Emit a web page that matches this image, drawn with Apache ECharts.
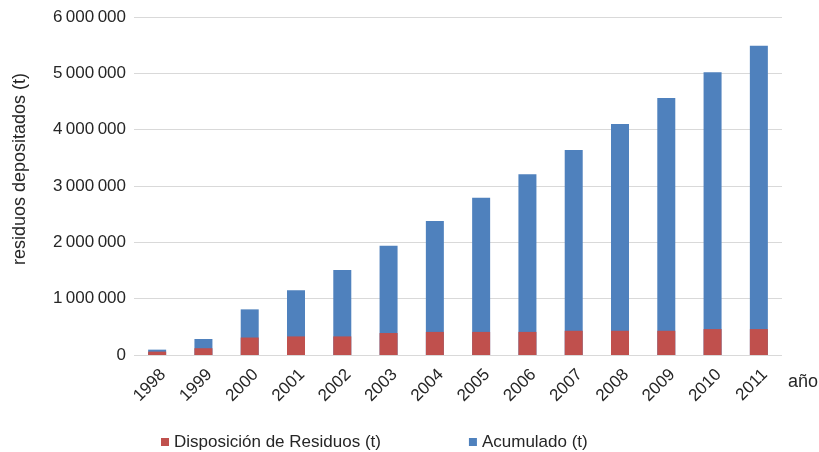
<!DOCTYPE html>
<html><head><meta charset="utf-8">
<script src="https://cdn.jsdelivr.net/npm/echarts@6/dist/echarts.min.js"></script>
<style>html,body{margin:0;padding:0;background:#fff}#c{width:819px;height:452px}</style>
</head><body><div id="c"></div>
<script>
const years = ['1998','1999','2000','2001','2002','2003','2004','2005','2006','2007','2008','2009','2010','2011'];
const disposicion = [60000,120000,310000,330000,330000,390000,410000,410000,410000,430000,430000,430000,460000,460000];
const acumulado = [95000,284000,810000,1150000,1510000,1940000,2380000,2790000,3210000,3640000,4100000,4560000,5020000,5490000];
const seriesNames = ['Disposición de Residuos (t)','Acumulado (t)'];
const yAxisTitle = 'residuos depositados (t)';
const xAxisTitle = 'año';

function fmt(v){ return String(v).replace(/\B(?=(\d{3})+(?!\d))/g,'\u2009'); }
const chart = echarts.init(document.getElementById('c'));
const font = 'Liberation Sans, Arial, sans-serif';
chart.setOption({
  animation:false,
  grid:{left:134,right:37,top:17,bottom:97,containLabel:false},
  legend:{data:[seriesNames[0],seriesNames[1]],left:156,top:427,itemWidth:8,itemHeight:8,itemGap:88,icon:'rect',
    textStyle:{fontFamily:font,fontSize:17,color:'#262626',lineHeight:20}},
  xAxis:{type:'category',data:years,
    axisLine:{show:false},axisTick:{show:false},
    axisLabel:{rotate:45,verticalAlign:'top',fontFamily:font,fontSize:17,color:'#262626',margin:11,interval:0}},
  yAxis:{type:'value',min:0,max:6000000,interval:1000000,
    axisLabel:{formatter:fmt,fontFamily:font,fontSize:17,color:'#262626',margin:8},
    splitLine:{lineStyle:{color:'#d9d9d9',width:1}}},
  series:[
    {name:seriesNames[1],type:'bar',data:acumulado,barWidth:18,itemStyle:{color:'#4F81BD'},z:2},
    {name:seriesNames[0],type:'bar',data:disposicion,barWidth:18,barGap:'-100%',itemStyle:{color:'#C0504D'},z:3}
  ],
  graphic:[
    {type:'text',x:20,y:169,rotation:Math.PI/2,style:{text:yAxisTitle,fontFamily:font,fontSize:18,fill:'#262626',align:'center',verticalAlign:'middle'}},
    {type:'text',x:788,y:382,style:{text:xAxisTitle,fontFamily:font,fontSize:18,fill:'#262626',verticalAlign:'middle'}}
  ]
});
</script></body></html>
